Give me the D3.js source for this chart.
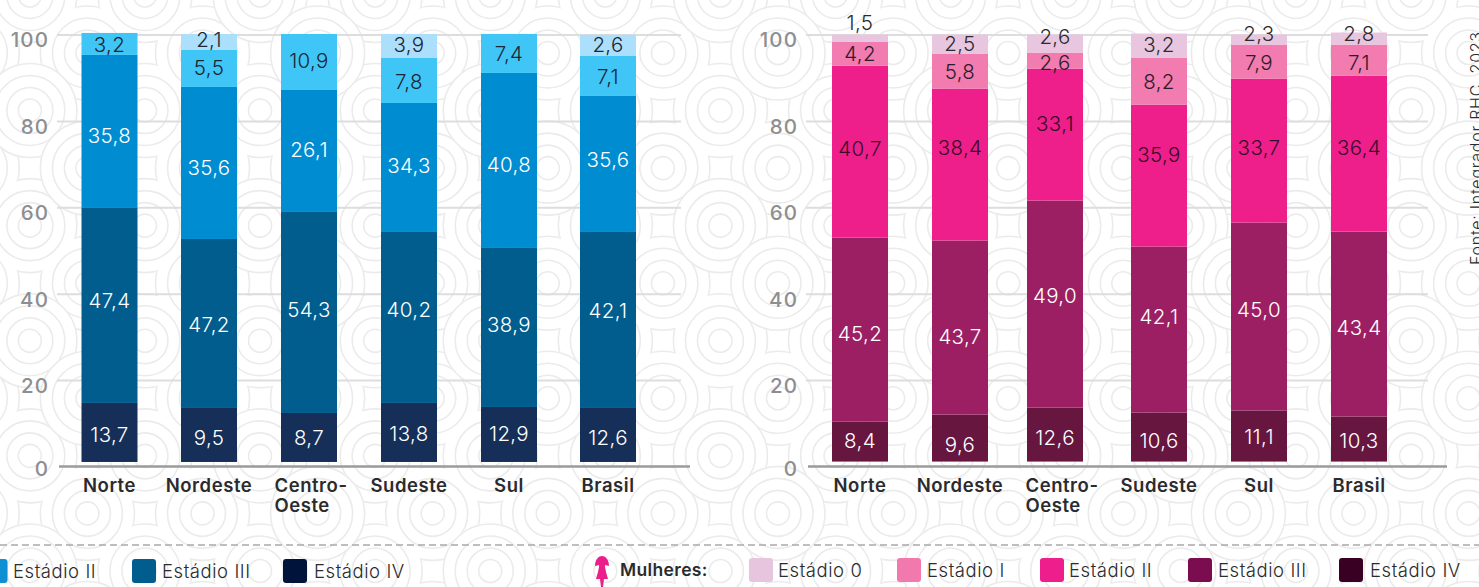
<!DOCTYPE html>
<html lang="pt">
<head>
<meta charset="utf-8">
<script src="https://cdnjs.cloudflare.com/ajax/libs/d3/7.8.5/d3.min.js"></script>
<style>
html,body{margin:0;padding:0;background:#fff;overflow:hidden}
svg{display:block}
text{font-family:Inter,"Noto Sans",sans-serif}
</style>
</head>
<body>
<svg id="c" width="1479" height="587"></svg>
<script>
// ---- data ----
const regions = ["Norte","Nordeste","Centro-Oeste","Sudeste","Sul","Brasil"];
const stages = ["Estádio IV","Estádio III","Estádio II","Estádio I","Estádio 0"];
const yTicks = [0,20,40,60,80,100];

// printed labels (null = no label)
const menIV   = ["13,7","9,5","8,7","13,8","12,9","12,6"];
const menIII  = ["47,4","47,2","54,3","40,2","38,9","42,1"];
const menII   = ["35,8","35,6","26,1","34,3","40,8","35,6"];
const menI    = ["3,2","5,5","10,9","7,8","7,4","7,1"];
const men0    = [null,"2,1",null,"3,9",null,"2,6"];
const womenIV  = ["8,4","9,6","12,6","10,6","11,1","10,3"];
const womenIII = ["45,2","43,7","49,0","42,1","45,0","43,4"];
const womenII  = ["40,7","38,4","33,1","35,9","33,7","36,4"];
const womenI   = ["4,2","5,8","2,6","8,2","7,9","7,1"];
const women0   = ["1,5","2,5","2,6","3,2","2,3","2,8"];

// drawn segment lengths, in axis units, as measured on the picture
const menLenIV   = [13.66,12.5,11.34,13.66,12.73,12.5];
const menLenIII  = [45.14,39.12,46.53,39.58,36.81,40.74];
const menLenII   = [35.42,35.19,28.24,29.86,40.51,31.48];
const menLenI    = [5.09,8.56,12.96,10.42,9.03,9.26];
const menLen0    = [0,3.7,0,5.56,0,4.9];
const womenLenIV  = [9.26,10.88,12.5,11.34,11.81,10.42];
const womenLenIII = [42.59,40.28,47.92,38.43,43.52,42.82];
const womenLenII  = [39.81,35.19,30.56,32.87,33.33,36.11];
const womenLenI   = [5.56,8.1,3.7,10.88,7.87,7.18];
const womenLen0   = [1.62,4.4,4.17,5.56,2.31,2.78];

// where the printed labels sit, in axis units
const menAtIV   = [7.3,6.6,6.6,7.5,7.5,6.6];
const menAtIII  = [38.3,32.8,36.2,36.2,32.8,36];
const menAtII   = [76.5,69.1,73.3,69.6,69.8,71];
const menAtI    = [97.6,92.3,93.9,89.2,95.5,90.2];
const menAt0    = [null,98.7,null,97.6,null,97.6];
const womenAtIV  = [6.1,5,6.8,6.1,7,6.1];
const womenAtIII = [30.7,30,39.5,34.8,36.4,32.1];
const womenAtII  = [73.5,73.7,79.3,72.1,73.9,73.9];
const womenAtI   = [95.5,91.3,93.6,89.1,93.4,93.6];
const womenAt0   = [102.7,98,99.4,97.6,100.3,100.1];

// ---- layout & style ----
const svg = d3.select("#c");
const y = d3.scaleLinear().domain([0,100]).range([466.5,34.5]);
const barW = 56;

// decorative background: concentric rings on a diagonal lattice,
// some points carrying a larger whole target that covers its neighbours
(function background(){
  const S = 57.55, g = svg.append("g").attr("fill","none").attr("stroke","#ebebeb").attr("stroke-width",1.6);
  svg.append("defs").append("clipPath").attr("id","cell").append("path")
    .attr("d",`M0,${-S}L${S},0L0,${S}L${-S},0Z`);
  const pts = [];
  d3.range(-14,15).forEach(i=>d3.range(-1,12).forEach(j=>{
    if(((i+j)%2+2)%2!==0) return;
    const h = ((i*3+j*2)%8+8)%8;
    pts.push({x:778+i*S, y:53+(j)*S, big:h===0||h===3});
  }));
  pts.filter(p=>!p.big).forEach(p=>{
    const c = g.append("g").attr("transform",`translate(${p.x},${p.y})`).attr("clip-path","url(#cell)");
    [11.5,23,35,47].forEach(r=>c.append("circle").attr("r",r));
  });
  pts.filter(p=>p.big).forEach(p=>{
    const c = g.append("g").attr("transform",`translate(${p.x},${p.y})`);
    c.append("circle").attr("r",47.8).attr("fill","#fff").attr("stroke","none");
    [11.5,23,35,47].forEach(r=>c.append("circle").attr("r",r));
  });
})();

function chart(cfg){
  const g = svg.append("g");
  const x = d3.scaleOrdinal().domain(regions).range(cfg.centers);
  const xLab = d3.scaleOrdinal().domain(regions).range(cfg.labelCenters);
  const color = d3.scaleOrdinal().domain(stages).range(cfg.colors);

  // axis + gridlines
  const ax = g.append("g").attr("transform",`translate(${cfg.axisX},0)`)
    .call(d3.axisLeft(y).tickValues(yTicks).tickSize(-cfg.gridW).tickPadding(8).tickFormat(d3.format("d")));
  ax.select(".domain").remove();
  ax.selectAll(".tick line").attr("stroke","#dddddd").attr("stroke-width",2);
  ax.selectAll(".tick text").attr("fill","#8e8e91").attr("font-size",20.5).attr("font-weight",500)
    .attr("letter-spacing",1.1).attr("dy","0.6em");
  ax.selectAll(".tick").filter(d=>d===0).select("line").remove();
  ax.selectAll(".tick").filter(d=>d===0).select("text").attr("dy","0.42em").attr("x",-8);
  g.append("line").attr("x1",cfg.axisX+2).attr("x2",cfg.baseEnd).attr("y1",y(0)).attr("y2",y(0))
    .attr("stroke","#9b9b9d").attr("stroke-width",2.5);

  // stacked bars
  const rows = regions.map((r,i)=>{
    const o={region:r};
    stages.forEach((s,k)=>o[s]=cfg.lengths[k][i]);
    return o;
  });
  const series = d3.stack().keys(stages)(rows);
  series.forEach((ser,k)=>{
    g.append("g").attr("fill",color(stages[k])).selectAll("rect").data(ser).join("rect")
      .attr("x",d=>x(d.data.region)-barW/2)
      .attr("width",barW)
      .attr("y",d=>y(d[1]+cfg.base))
      .attr("height",d=>y(d[0]+cfg.base)-y(d[1]+cfg.base));
  });

  // printed labels
  stages.forEach((s,k)=>{
    regions.forEach((r,i)=>{
      const t = cfg.labels[k][i];
      if(t===null) return;
      g.append("text").text(t)
        .attr("x",x(r)).attr("y",y(cfg.labelAt[k][i]))
        .attr("dy","0.36em").attr("text-anchor","middle")
        .attr("font-size",20.5).attr("font-weight",300).attr("letter-spacing",0.35)
        .attr("fill",cfg.textColors[k]);
    });
  });

  // category labels
  regions.forEach(r=>{
    const t = g.append("text").attr("font-size",18.5).attr("font-weight",600).attr("letter-spacing",0.55)
      .attr("fill","#2b2b2d").attr("y",491.5);
    if(r.includes("-")){
      const parts = r.split("-");
      const left = xLab(r)-34.5;
      t.append("tspan").attr("x",left).text(parts[0]+"-");
      t.append("tspan").attr("x",left).attr("dy",20).text(parts[1]);
    } else {
      t.attr("x",xLab(r)).attr("text-anchor","middle").text(r);
    }
  });
}

chart({
  axisX:57, gridW:624, baseEnd:690, base:1.05,
  centers:[109.5,209,309,409,509,608],
  labelCenters:[109.5,209,309,409,509,608],
  colors:["#152f58","#005d8d","#008cd0","#3fc6f6","#abdffc"],
  textColors:["#fff","#fff","#fff","#1b2733","#1b2733"],
  lengths:[menLenIV,menLenIII,menLenII,menLenI,menLen0],
  labels:[menIV,menIII,menII,menI,men0],
  labelAt:[menAtIV,menAtIII,menAtII,menAtI,menAt0]
});
chart({
  axisX:806, gridW:622, baseEnd:1447, base:1.14,
  centers:[860,960,1055,1159,1259,1359],
  labelCenters:[860,960,1060,1159,1259,1359],
  colors:["#66163f","#9c1f63","#ee1f8b","#f27bb0","#e9c6df"],
  textColors:["#fff","#fff","#3a0a2a","#2e1a28","#2b2b2d"],
  lengths:[womenLenIV,womenLenIII,womenLenII,womenLenI,womenLen0],
  labels:[womenIV,womenIII,womenII,womenI,women0],
  labelAt:[womenAtIV,womenAtIII,womenAtII,womenAtI,womenAt0]
});

// dashed separator
svg.append("line").attr("x1",0).attr("x2",1479).attr("y1",545).attr("y2",545)
  .attr("stroke","#a9a9ab").attr("stroke-width",1.5).attr("stroke-dasharray","7,4");

// legends
function legend(items){
  const g = svg.append("g");
  items.forEach(it=>{
    g.append("rect").attr("x",it.x).attr("y",it.y).attr("width",24).attr("height",24).attr("rx",3).attr("fill",it.color);
    g.append("text").attr("x",it.x+it.dx).attr("y",it.y+18.5).attr("font-size",18.5).attr("font-weight",300)
      .attr("letter-spacing",0.55).attr("fill","#2b2b2d").text(it.name);
  });
}
legend([
  {name:"Estádio II",  x:-16.5,y:559,dx:29.5,color:"#0e90d2"},
  {name:"Estádio III", x:132,y:559,dx:30,color:"#005d8d"},
  {name:"Estádio IV",  x:283,y:559,dx:31,color:"#00133a"},
  {name:"Estádio 0",   x:749,y:558,dx:29,color:"#e8c5de"},
  {name:"Estádio I",   x:897,y:558,dx:30,color:"#f179ae"},
  {name:"Estádio II",  x:1040,y:558,dx:29,color:"#ee1e8c"},
  {name:"Estádio III", x:1188,y:558,dx:30,color:"#7b0c4f"},
  {name:"Estádio IV",  x:1339,y:558,dx:31,color:"#3a0024"}
]);
svg.append("text").attr("x",620).attr("y",576).attr("font-size",17.5).attr("font-weight",600)
  .attr("letter-spacing",0.35).attr("fill","#2b2b2d").text("Mulheres:");

// woman pictogram
svg.append("path").attr("fill","#ec1e8c").attr("transform","translate(602,0)")
  .attr("d","M-7,566 C-7,559 -3,556 0,556 C3,556 7,559 7,566 L3,565 L3,567 L4,572 L6,579 L2,579 L1,587 L-1,587 L-2,579 L-6,579 L-4,572 L-3,567 L-3,565 Z");

// source, rotated, clipped by the right edge as in the original
svg.append("text").attr("transform","translate(1482,265) rotate(-90)")
  .attr("font-size",16).attr("font-weight",300).attr("letter-spacing",0.75).attr("fill","#2b2b2d")
  .text("Fonte: Integrador RHC, 2023");
</script>
</body>
</html>
